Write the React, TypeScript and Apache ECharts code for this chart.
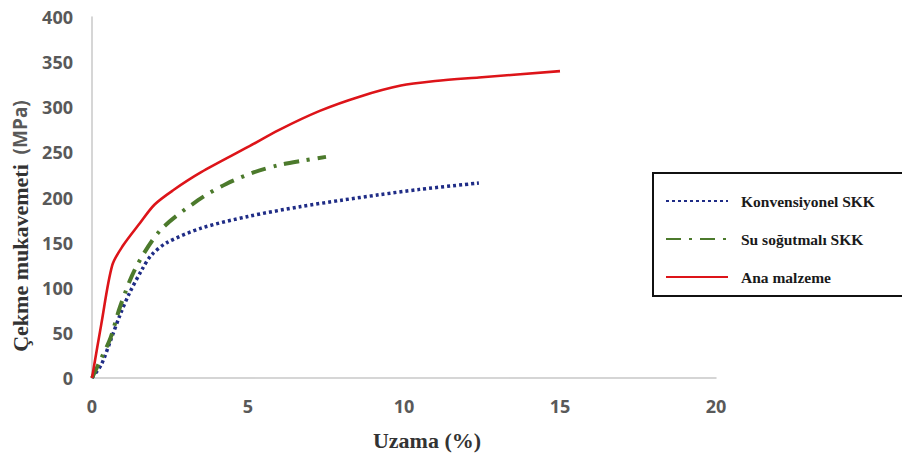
import React, { useEffect, useRef } from "react";
import * as echarts from "echarts";

const xTicks = [0, 5, 10, 15, 20];
const yTicks = [0, 50, 100, 150, 200, 250, 300, 350, 400];

const seriesNames = ["Konvensiyonel SKK", "Su soğutmalı SKK", "Ana malzeme"];

const konvensiyonel: [number, number][] = [
  [0, 0], [0.3, 15], [0.6, 42], [0.9, 70], [1.2, 94], [1.6, 120], [1.9, 136],
  [2.4, 150], [3.5, 166], [5, 179], [6.7, 190], [8, 197], [9.2, 203], [10.5, 209], [12.4, 216],
];

const suSogutmali: [number, number][] = [
  [0, 0], [0.3, 22], [0.6, 45], [0.9, 79], [1.4, 122], [2.2, 164], [3.4, 197],
  [4.3, 215], [5.2, 228], [6, 236], [6.8, 241], [7.5, 245],
];

const anaMalzeme: [number, number][] = [
  [0, 0], [0.3, 60], [0.65, 125], [1.0, 147], [1.5, 170], [2.0, 192], [2.6, 208],
  [3.5, 228], [5, 256], [6, 275], [7.3, 296], [8.6, 312], [9.9, 324], [11, 329],
  [12.4, 333], [15, 340],
];

export default function App() {
  const ref = useRef<HTMLDivElement>(null);
  useEffect(() => {
    if (!ref.current) return;
    const chart = echarts.init(ref.current, null, { renderer: "svg" });
    const axisLabel = {
      color: "#595959",
      fontSize: 18,
      fontWeight: "bold" as const,
      fontFamily: "Open Sans",
    };
    chart.setOption({
      animation: false,
      backgroundColor: "#ffffff",
      grid: { left: 92, right: 186, top: 17, bottom: 81, containLabel: false },
      xAxis: {
        type: "value",
        min: xTicks[0],
        max: xTicks[xTicks.length - 1],
        interval: 5,
        splitLine: { show: false },
        axisTick: { show: false },
        axisLine: { show: true, lineStyle: { color: "#c8c8c8", width: 1.5 } },
        axisLabel: { ...axisLabel, margin: 19 },
      },
      yAxis: {
        type: "value",
        min: yTicks[0],
        max: yTicks[yTicks.length - 1],
        interval: 50,
        splitLine: { show: false },
        axisTick: { show: false },
        axisLine: { show: true, lineStyle: { color: "#c8c8c8", width: 1.5 } },
        axisLabel: { ...axisLabel, margin: 19 },
      },
      legend: {
        orient: "vertical",
        left: 660,
        top: 188,
        itemWidth: 62,
        itemHeight: 14,
        itemGap: 22,
        itemStyle: { opacity: 0 },
        textStyle: {
          fontFamily: "Liberation Serif",
          fontWeight: "bold",
          fontSize: 15.5,
          color: "#1a1a1a",
          padding: [0, 0, 0, 8],
        },
        data: seriesNames,
      },
      series: [
        {
          name: seriesNames[0],
          type: "line",
          data: konvensiyonel,
          smooth: 0.3,
          showSymbol: false,
          symbol: "none",
          lineStyle: { color: "#1f2c86", width: 3.5, type: [3, 3], cap: "butt" },
          itemStyle: { color: "#1f2c86" },
        },
        {
          name: seriesNames[1],
          type: "line",
          data: suSogutmali,
          smooth: 0.3,
          showSymbol: false,
          symbol: "none",
          lineStyle: { color: "#4c7a2c", width: 4, type: [15, 8, 3, 8], cap: "butt" },
          itemStyle: { color: "#4c7a2c" },
        },
        {
          name: seriesNames[2],
          type: "line",
          data: anaMalzeme,
          smooth: 0.3,
          showSymbol: false,
          symbol: "none",
          lineStyle: { color: "#dd1419", width: 2.6 },
          itemStyle: { color: "#dd1419" },
        },
      ],
      graphic: [
        {
          type: "rect",
          shape: { x: 653, y: 173, width: 260, height: 123 },
          style: { fill: "none", stroke: "#111111", lineWidth: 2 },
          z: 100,
        },
        {
          type: "text",
          x: 427,
          y: 440,
          style: {
            text: "Uzama (%)",
            font: "bold 22px 'Liberation Serif'",
            fill: "#333333",
            textAlign: "center",
            textVerticalAlign: "middle",
          },
        },
        {
          type: "text",
          x: 20,
          y: 226,
          rotation: Math.PI / 2,
          style: {
            text: "{a|Çekme mukavemeti}{b|  (MPa)}",
            textAlign: "center",
            textVerticalAlign: "middle",
            rich: {
              a: {
                fontFamily: "Liberation Serif",
                fontWeight: "bold",
                fontSize: 22,
                fill: "#333333",
                color: "#333333",
              },
              b: {
                fontFamily: "Open Sans",
                fontWeight: "bold",
                fontSize: 19,
                fill: "#595959",
                color: "#595959",
              },
            },
          },
        },
      ],
    });
    return () => chart.dispose();
  }, []);
  return (
    <div
      ref={ref}
      style={{ position: "fixed", left: 0, top: 0, width: 902, height: 459 }}
    />
  );
}
